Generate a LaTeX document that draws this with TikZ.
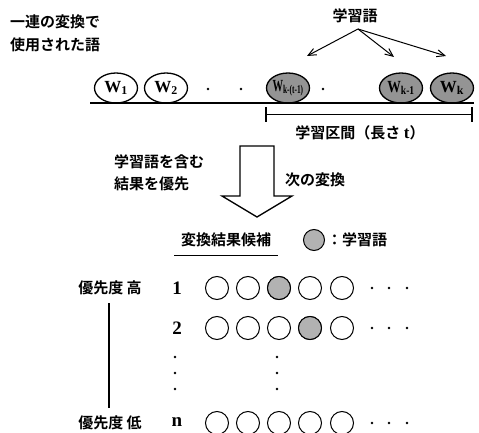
\documentclass[tikz,border=0pt]{standalone}
\usepackage{fontspec}
\setmainfont{Liberation Serif}
\usetikzlibrary{shapes.geometric,arrows.meta}
\newfontfamily\jp{Noto Sans CJK JP}[BoldFont={Noto Sans CJK JP Bold}]
\begin{document}
\begin{tikzpicture}[x=1pt,y=-1pt,
  jt/.style={font=\jp\bfseries\fontsize{15}{18}\selectfont, inner sep=0pt},
  wordel/.style={draw, line width=1.3pt, ellipse, minimum width=43pt, minimum height=30pt, inner sep=0pt, font=\bfseries\fontsize{17}{18}\selectfont},
  learned/.style={fill=black!42},
  cand/.style={draw, line width=1pt, circle, minimum size=23pt, inner sep=0pt},
  numlab/.style={font=\bfseries\fontsize{19}{20}\selectfont, inner sep=0pt},
  dot/.style={circle, fill=black, minimum size=2.8pt, inner sep=0pt},
  ptr/.style={line width=1pt, -{Straight Barb[length=8pt,width=7pt]}}
]
\useasboundingbox (0,0) rectangle (479,433);

% top left caption
\node[jt, anchor=west] (cap1) at (10,22) {一連の変換で};
\node[jt, anchor=west] (cap2) at (10,45) {使用された語};

% learned label and arrows
\node[jt] (lw) at (355,16) {学習語};
\coordinate (src) at (358,29);
\coordinate (a1) at (307,56);
\coordinate (a2) at (394,57);
\coordinate (a3) at (446,56);

% word sequence
\node[wordel] (w1) at (116,88) {\makebox[0pt]{W\textsubscript{1}}};
\node[wordel] (w2) at (166,88) {\makebox[0pt]{W\textsubscript{2}}};
\node[dot] (d1) at (208,89) {};
\node[dot] (d2) at (241,89) {};
\node[wordel, learned] (wt) at (288,88) {\makebox[0pt]{\scalebox{0.62}[1]{W\textsubscript{k-(t-1)}}}};
\node[dot] (d3) at (323,89) {};
\node[wordel, learned] (wk1) at (401,88) {\makebox[0pt]{\scalebox{0.8}[1]{W\textsubscript{k-1}}}};
\node[wordel, learned] (wk) at (452,88) {\makebox[0pt]{W\textsubscript{k}}};

\draw[ptr] (src) -- (a1);
\draw[ptr] (src) -- (a2);
\draw[ptr] (src) -- (a3);

% baseline
\coordinate (bl) at (90,103);
\coordinate (br) at (474,103);
\draw[line width=1.6pt] (bl) -- (br);

% learning interval bracket
\coordinate (il) at (266,115);
\coordinate (ir) at (472,115);
\draw[line width=1pt] (il) -- (ir);
\draw[line width=1.2pt] ([yshift=-7pt]il) -- ([yshift=8pt]il);
\draw[line width=1.2pt] ([yshift=-7pt]ir) -- ([yshift=8pt]ir);
\node[jt] (ilab) at (360,133) {学習区間（長さ {\rmfamily\fontsize{17}{18}\selectfont t}）};

% block arrow
\draw[line width=1.3pt, line join=miter] (240,146) -- (274,146) -- (274,196) -- (292,196) -- (257,217) -- (222,196) -- (240,196) -- cycle;
\node[jt, anchor=west] (pr1) at (114,162) {学習語を含む};
\node[jt, anchor=west] (pr2) at (114,184) {結果を優先};
\node[jt, anchor=west] (nx) at (285,180) {次の変換};

% candidates header
\node[jt] (hdr) at (226,240) {変換結果候補};
\draw[line width=1pt] (174,255) -- (278,255);
\node[cand, learned, fill=black!30, minimum size=21pt] (leg) at (314,240) {};
\node[jt, anchor=west] (legt) at (327,240) {：学習語};

% priority labels
\node[jt] (hi) at (110,288) {優先度 高};
\node[jt] (lo) at (110,423) {優先度 低};
\draw[line width=1.2pt] (109,303) -- (109,408);

% rows
\node[numlab] (n1) at (177,288) {1};
\node[numlab] (n2) at (177,328) {2};
\node[numlab] (nn) at (177,422) {n};

\foreach \i/\x in {1/217,2/248,3/279,4/310,5/342}{
  \node[cand] (r1c\i) at (\x,288) {};
  \node[cand] (r2c\i) at (\x,328) {};
  \node[cand] (rnc\i) at (\x,423) {};
}
\node[cand, learned, fill=black!30] at (r1c3) {};
\node[cand, learned, fill=black!30] at (r2c4) {};

\foreach \r/\y in {1/288,2/328,n/423}{
  \node[dot] (e\r a) at (372,\y) {};
  \node[dot] (e\r b) at (389,\y) {};
  \node[dot] (e\r c) at (407,\y) {};
}
\foreach \k/\y in {1/357,2/373,3/389}{
  \node[dot] (v\k a) at (175,\y) {};
  \node[dot] (v\k b) at (277,\y) {};
}
\end{tikzpicture}
\end{document}
